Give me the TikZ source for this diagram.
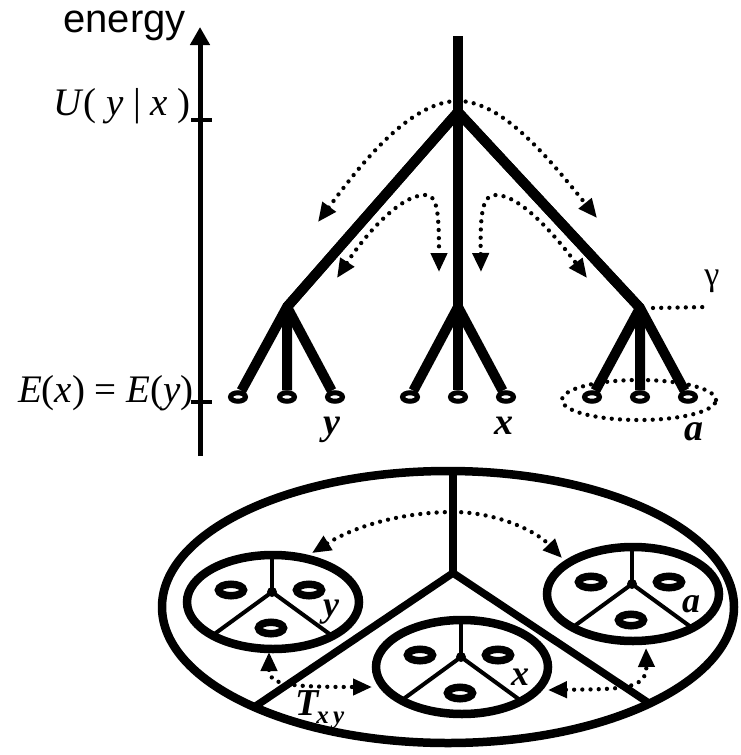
\documentclass[tikz,border=0pt]{standalone}
\usepackage{fontspec}
\setmainfont{Liberation Serif}
\newfontfamily\axisfont{Liberation Sans}
\usetikzlibrary{arrows.meta,shapes.geometric}
\tikzset{
  axisline/.style={line width=5pt,-{Triangle[length=18pt,width=19pt]}},
  tick/.style={line width=3.5pt},
  branch/.style={line width=10pt,line join=round},
  leaf/.style={
    ellipse,
    draw,
    line width=5pt,
    fill=white,
    minimum width=15pt,
    minimum height=8.5pt,
    inner sep=0pt
  },
  dots/.style={line width=4.3pt,line cap=round,dash pattern=on 0pt off 8.2pt},
  dotarrow/.style={dots,{Triangle[length=19pt,width=16pt]}-{Triangle[length=19pt,width=16pt]}},
  outer/.style={line width=8.5pt},
  divbig/.style={line width=7.5pt,line cap=round},
  subsys/.style={line width=8.5pt},
  divsmall/.style={line width=4pt},
  ring/.style={
    ellipse,
    draw,
    line width=7.5pt,
    minimum width=25pt,
    minimum height=11.5pt,
    inner sep=0pt
  },
  axislabel/.style={inner sep=0pt,font=\axisfont\fontsize{40}{44}\selectfont},
  mathlabel/.style={inner sep=0pt,font=\fontsize{39}{42}\selectfont},
  leaflabel/.style={inner sep=0pt,font=\fontsize{38}{40}\selectfont\bfseries\itshape},
  sublabel/.style={inner sep=0pt,font=\fontsize{36}{38}\selectfont\bfseries\itshape}
}
\begin{document}
\begin{tikzpicture}[x=1pt,y=-1pt]
  \useasboundingbox (0,0) rectangle (740,755);

  % energy axis
  \coordinate (axbot) at (200,456);
  \coordinate (axtop) at (200,27);
  \coordinate (utick) at (200,120);
  \coordinate (etick) at (200,402);
  \draw[axisline] (axbot) -- (axtop);
  \draw[tick] ([xshift=-9pt]utick) -- ([xshift=12pt]utick);
  \draw[tick] ([xshift=-9pt]etick) -- ([xshift=12pt]etick);
  \node[axislabel,anchor=base east] (energy) at (186,32) {energy};
  \node[mathlabel,anchor=base east] (ulab) at (191,115) {\textit{U}( \textit{y} | \textit{x} )};
  \node[mathlabel,anchor=base east] (elab) at (194,402) {\textit{E}(\textit{x}) = \textit{E}(\textit{y})};

  % tree points
  \coordinate (ttop) at (458,36);
  \coordinate (root) at (458,112);
  \coordinate (lj) at (287,307);
  \coordinate (mj) at (458,307);
  \coordinate (rj) at (640,308);

  % dotted transitions
  \coordinate (oL) at (318,222);
  \coordinate (oP) at (458,101);
  \coordinate (oR) at (597,218);
  \coordinate (iLa) at (337,278);
  \coordinate (iLp) at (425,195);
  \coordinate (iLb) at (439,272);
  \coordinate (iRa) at (481,272);
  \coordinate (iRp) at (496,195);
  \coordinate (iRb) at (587,278);
  \draw[dotarrow] (oL) .. controls (360,165) and (410,101) .. (oP) .. controls (503,101) and (550,160) .. (oR);
  \draw[dotarrow] (iLa) .. controls (365,235) and (400,195) .. (iLp) .. controls (437,195) and (439,210) .. (iLb);
  \draw[dotarrow] (iRa) .. controls (480,210) and (483,195) .. (iRp) .. controls (520,195) and (555,235) .. (iRb);

  \coordinate (gend) at (707,307);
  \draw[dots] ([xshift=13pt]rj) -- (gend);
  \node[inner sep=0pt,font=\fontsize{34}{36}\selectfont] (gam) at (712,281) {γ};
  \coordinate (acl) at (639,400);
  \draw[dots] (acl) ellipse [x radius=77pt,y radius=20pt];

  % leaves
  \foreach \nm/\x in {lL/238,lM/287,lR/335,mL/410,mM/458,mR/506,rL/592,rM/640,rR/688}
    \node[leaf] (\nm) at (\x,397) {};

  % branches
  \draw[branch,line cap=butt] (ttop) -- (mM);
  \draw[branch] (lj) -- (root) -- (rj);
  \draw[branch] (root) -- (lj) -- (lM);
  \draw[branch] (lL) -- (lj) -- (lR);
  \draw[branch] (mL) -- (mj) -- (mR);
  \draw[branch] (root) -- (rj) -- (rM);
  \draw[branch] (rL) -- (rj) -- (rR);

  \node[leaflabel,anchor=base] (ylab) at (332,434) {y};
  \node[leaflabel,anchor=base] (xlab) at (504,434) {x};
  \node[leaflabel,anchor=base] (alab) at (694,440) {a};

  % coarse-grained picture
  \coordinate (big) at (448,607);
  \coordinate (bj) at (453,573);
  \begin{scope}
    \clip (big) ellipse [x radius=286pt,y radius=136pt];
    \draw[divbig] (bj) -- ++(0,-150);
    \draw[divbig] (bj) -- ++(-264,178);
    \draw[divbig] (bj) -- ++(265,176);
  \end{scope}
  \draw[outer] (big) ellipse [x radius=286pt,y radius=136pt];

  \coordinate (tA) at (312,553);
  \coordinate (tP) at (453,512);
  \coordinate (tB) at (562,558);
  \coordinate (lA) at (269,652);
  \coordinate (lB) at (372,687);
  \coordinate (rA) at (548,690);
  \coordinate (rB) at (646,648);
  \draw[dotarrow] (tA) .. controls (360,523) and (410,512) .. (tP) .. controls (495,512) and (535,530) .. (tB);
  \draw[dotarrow] (lA) .. controls (269,684) and (285,687) .. (lB);
  \draw[dotarrow] (rA) .. controls (620,689) and (647,690) .. (rB);

  \foreach \cx/\cy/\lab/\nm in {273/602/y/sy,462/667/x/sx,633/594/a/sa}{
    \begin{scope}[shift={(\cx,\cy)}]
      \coordinate (\nm) at (0,0);
      \begin{scope}
        \clip (\nm) ellipse [x radius=86pt,y radius=47pt];
        \draw[divsmall] (-1,-10) -- ++(0,-60);
        \draw[divsmall] (-1,-10) -- ++(-85,62);
        \draw[divsmall] (-1,-10) -- ++(85,62);
      \end{scope}
      \draw[subsys] (\nm) ellipse [x radius=86pt,y radius=47pt];
      \fill (-1,-10) circle (5pt);
      \node[ring] (\nm-ul) at (-42,-12) {};
      \node[ring] (\nm-ur) at (36,-12) {};
      \node[ring] (\nm-b) at (-2,26) {};
      \node[sublabel] (\nm-lab) at (58,10) {\lab};
    \end{scope}
  }

  \node[inner sep=0pt,anchor=base west] (txy) at (295,715)
    {\fontsize{38}{38}\selectfont\bfseries\itshape T\kern-2pt\raisebox{-8pt}{\fontsize{25}{26}\selectfont x\,y}};
\end{tikzpicture}
\end{document}
